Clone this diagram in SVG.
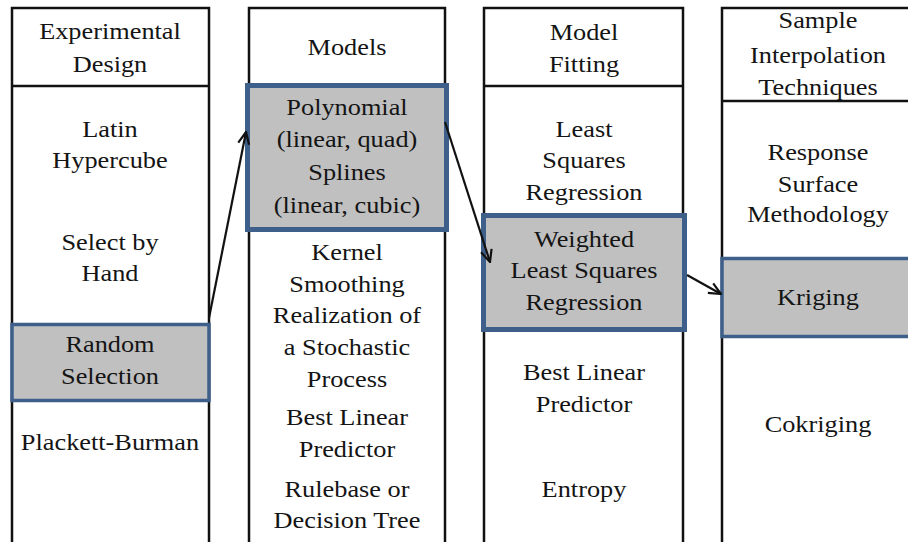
<svg xmlns="http://www.w3.org/2000/svg" width="908" height="542" viewBox="0 0 908 542">
<defs>
<style>
.col{fill:#fff;stroke:#111;stroke-width:2.5}
.hl{fill:#c0c0c0;stroke:#3e5f8a;stroke-width:5}
.hl2{fill:#c0c0c0;stroke:#3e5f8a;stroke-width:3.5}
.t{font-family:"Liberation Serif","Times New Roman",serif;font-size:22.5px;fill:#141414;text-anchor:middle}
.c{fill:none;stroke:#111;stroke-width:2.2}
</style>
<marker id="ah" viewBox="0 0 14 14" refX="13" refY="7" markerWidth="14" markerHeight="14" markerUnits="userSpaceOnUse" orient="auto">
<path d="M1,1.5 L13,7 L1,12.5" fill="none" stroke="#111" stroke-width="2.2"/>
</marker>
</defs>
<rect width="908" height="542" fill="#fff"/>

<g id="col-experimental-design">
<rect class="col" x="12" y="8" width="197" height="540"/>
<line x1="12" y1="86" x2="209" y2="86" stroke="#111" stroke-width="2.5"/>
<rect class="hl2" x="12" y="324.5" width="197" height="76"/>
<g transform="translate(110 0) scale(1.17 1)">
<text class="t" x="0" y="39">Experimental</text>
<text class="t" x="0" y="72">Design</text>
<text class="t" x="0" y="137">Latin</text>
<text class="t" x="0" y="168">Hypercube</text>
<text class="t" x="0" y="250">Select by</text>
<text class="t" x="0" y="281">Hand</text>
<text class="t" x="0" y="352">Random</text>
<text class="t" x="0" y="384">Selection</text>
<text class="t" x="0" y="450">Plackett-Burman</text>
</g>
</g>

<g id="col-models">
<rect class="col" x="249" y="8" width="196" height="540"/>
<rect class="hl" x="247.5" y="85.5" width="199" height="144"/>
<g transform="translate(347 0) scale(1.17 1)">
<text class="t" x="0" y="55">Models</text>
<text class="t" x="0" y="115">Polynomial</text>
<text class="t" x="0" y="147">(linear, quad)</text>
<text class="t" x="0" y="180">Splines</text>
<text class="t" x="0" y="213">(linear, cubic)</text>
<text class="t" x="0" y="260">Kernel</text>
<text class="t" x="0" y="292">Smoothing</text>
<text class="t" x="0" y="323">Realization of</text>
<text class="t" x="0" y="355">a Stochastic</text>
<text class="t" x="0" y="387">Process</text>
<text class="t" x="0" y="425">Best Linear</text>
<text class="t" x="0" y="457">Predictor</text>
<text class="t" x="0" y="497">Rulebase or</text>
<text class="t" x="0" y="528">Decision Tree</text>
</g>
</g>

<g id="col-model-fitting">
<rect class="col" x="484" y="8" width="199" height="540"/>
<line x1="484" y1="86" x2="683" y2="86" stroke="#111" stroke-width="2.5"/>
<rect class="hl" x="483.5" y="215.5" width="201" height="114"/>
<g transform="translate(584 0) scale(1.17 1)">
<text class="t" x="0" y="40">Model</text>
<text class="t" x="0" y="72">Fitting</text>
<text class="t" x="0" y="137">Least</text>
<text class="t" x="0" y="168">Squares</text>
<text class="t" x="0" y="200">Regression</text>
<text class="t" x="0" y="247">Weighted</text>
<text class="t" x="0" y="278">Least Squares</text>
<text class="t" x="0" y="310">Regression</text>
<text class="t" x="0" y="380">Best Linear</text>
<text class="t" x="0" y="412">Predictor</text>
<text class="t" x="0" y="497">Entropy</text>
</g>
</g>

<g id="col-sample-interpolation">
<rect class="col" x="722" y="8" width="200" height="540"/>
<line x1="722" y1="101" x2="922" y2="101" stroke="#111" stroke-width="2.5"/>
<rect class="hl2" x="722" y="258.5" width="200" height="78"/>
<g transform="translate(818 0) scale(1.17 1)">
<text class="t" x="0" y="28">Sample</text>
<text class="t" x="0" y="63">Interpolation</text>
<text class="t" x="0" y="95">Techniques</text>
<text class="t" x="0" y="160">Response</text>
<text class="t" x="0" y="192">Surface</text>
<text class="t" x="0" y="222">Methodology</text>
<text class="t" x="0" y="305">Kriging</text>
<text class="t" x="0" y="432">Cokriging</text>
</g>
</g>

<g id="connectors">
<line class="c" x1="209" y1="318" x2="246" y2="132" marker-end="url(#ah)"/>
<line class="c" x1="445" y1="122" x2="490" y2="262" marker-end="url(#ah)"/>
<line class="c" x1="687" y1="275" x2="721" y2="294" marker-end="url(#ah)"/>
</g>
</svg>
